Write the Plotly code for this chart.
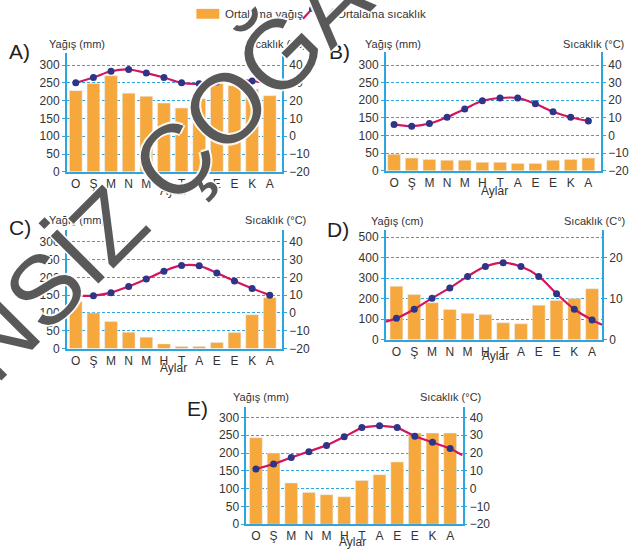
import plotly.graph_objects as go

W, H = 629, 551

months = ["O", "Ş", "M", "N", "M", "H", "T", "A", "E", "E", "K", "A"]

A_rain = [228, 248, 270, 221, 212, 193, 179, 205, 271, 242, 233, 214]
A_temp = [30, 33, 36.5, 37.5, 35.5, 33, 30, 29.5, 30.5, 32, 31, 30]
A_temp_edge_right = 29.8

B_rain = [47, 36, 32, 30, 30, 24, 24, 21, 21, 30, 32, 36]
B_temp = [6.3, 5.3, 6.8, 10.4, 15, 19.7, 21.3, 21.3, 18, 13.5, 10.4, 8.3]

C_rain = [132, 100, 76, 46, 32, 13, 6, 6, 17, 45, 95, 143]
C_temp = [9.7, 9.7, 11.4, 14.9, 19.1, 23.5, 26.7, 26.5, 22.4, 18, 13.8, 10]

D_rain = [260, 220, 180, 147, 128, 122, 82, 77, 168, 191, 200, 248]
D_temp = [5.2, 7.4, 10.1, 12.6, 15.4, 17.8, 18.75, 17.8, 15.4, 11.2, 7.4, 4.8]
D_temp_edge_left = 4.4
D_temp_edge_right = 3.6

E_rain = [243, 200, 116, 89, 83, 77, 123, 139, 175, 256, 256, 256]
E_temp = [11, 13.8, 17.5, 20.8, 24.3, 29.1, 34.4, 35.4, 34.4, 29.4, 26.1, 22.6]
E_temp_edge_right = 18.7

legend_labels = ["Ortalama yağış", "Ortalama sıcaklık"]

BAR = "#F6A83C"
LINE = "#D3145F"
DOT = "#2E3586"
AX = "#2CA6DE"
TXT = "#333333"
FONT = "Liberation Sans, Arial, sans-serif"


def fx(px):
    return px / W


def fy(py):
    return 1 - py / H


panels = [
    dict(tag="A)", rain=A_rain, temp=A_temp, el=None, er=A_temp_edge_right,
         xpx=(67, 283), ypx=(174, 54), rtop=333, dtick=50, t0=-20, k=0.2,
         tticks=[-20, -10, 0, 10, 20, 30, 40], xr=(-0.51, 11.7), shape="spline",
         ylab="Yağış (mm)", tlab="Sıcaklık (°C)",
         tagpos=(20, 52), ylabpos=(77, 45), tlabpos=(276, 45), aylar=(174, 193)),
    dict(tag="B)", rain=B_rain, temp=B_temp, el=None, er=None,
         xpx=(387, 603), ypx=(173, 53), rtop=336, dtick=50, t0=-20, k=0.2,
         tticks=[-20, -10, 0, 10, 20, 30, 40], xr=(-0.47, 11.72), shape="spline",
         ylab="Yağış (mm)", tlab="Sıcaklık (°C)",
         tagpos=(341, 52), ylabpos=(394, 45), tlabpos=(595, 45), aylar=(496, 193)),
    dict(tag="C)", rain=C_rain, temp=C_temp, el=None, er=None,
         xpx=(67, 283), ypx=(353, 233), rtop=333, dtick=50, t0=-20, k=0.2,
         tticks=[-20, -10, 0, 10, 20, 30, 40], xr=(-0.51, 11.7), shape="spline",
         ylab="Yağış (mm)", tlab="Sıcaklık (°C)",
         tagpos=(20, 230), ylabpos=(77, 223), tlabpos=(276, 223), aylar=(174, 373)),
    dict(tag="D)", rain=D_rain, temp=D_temp, el=D_temp_edge_left, er=D_temp_edge_right,
         xpx=(387, 604), ypx=(344, 233), rtop=534, dtick=100, t0=0, k=0.05,
         tticks=[0, 10, 20], xr=(-0.6, 11.56), shape="spline",
         ylab="Yağış (cm)", tlab="Sıcaklık (C°)",
         tagpos=(339, 232), ylabpos=(398, 224), tlabpos=(596, 224), aylar=(497, 361)),
    dict(tag="E)", rain=E_rain, temp=E_temp, el=None, er=E_temp_edge_right,
         xpx=(247, 464), ypx=(531, 412), rtop=330, dtick=50, t0=-20, k=0.2,
         tticks=[-20, -10, 0, 10, 20, 30, 40], xr=(-0.55, 11.7), shape="linear",
         ylab="Yağış (mm)", tlab="Sıcaklık (°C)",
         tagpos=(198, 414), ylabpos=(262, 402), tlabpos=(452, 402), aylar=(354, 549)),
]

fig = go.Figure()
layout = dict(
    width=W, height=H, margin=dict(l=0, r=0, t=0, b=0),
    paper_bgcolor="white", plot_bgcolor="rgba(0,0,0,0)",
    font=dict(family=FONT, color=TXT, size=12),
    barmode="overlay", showlegend=False,
)
annotations = []
shapes = []
xs = list(range(len(months)))

for i, p in enumerate(panels):
    n = i + 1
    xa = "x" if n == 1 else f"x{n}"
    yl_id = 2 * i + 1
    yr_id = 2 * i + 2
    yl = "y" if yl_id == 1 else f"y{yl_id}"
    yr = f"y{yr_id}"

    fig.add_trace(go.Bar(
        x=xs, y=p["rain"], xaxis=xa, yaxis=yl, marker_color=BAR, width=0.72,
        name=legend_labels[0]))

    lx = list(xs)
    ly = list(p["temp"])
    if p["el"] is not None:
        lx = [p["xr"][0]] + lx
        ly = [p["el"]] + ly
    if p["er"] is not None:
        lx = lx + [p["xr"][1]]
        ly = ly + [p["er"]]
    fig.add_trace(go.Scatter(
        x=lx, y=ly, xaxis=xa, yaxis=yr, mode="lines",
        line=dict(color=LINE, width=2.2, shape=p["shape"], smoothing=1.0),
        hoverinfo="skip"))
    fig.add_trace(go.Scatter(
        x=xs, y=p["temp"], xaxis=xa, yaxis=yr, mode="markers",
        marker=dict(color=DOT, size=7), name=legend_labels[1]))

    xkey = "xaxis" if n == 1 else f"xaxis{n}"
    ylkey = "yaxis" if yl_id == 1 else f"yaxis{yl_id}"
    yrkey = f"yaxis{yr_id}"
    layout[xkey] = dict(
        domain=[fx(p["xpx"][0]), fx(p["xpx"][1])], anchor=yl,
        range=list(p["xr"]), tickmode="array", tickvals=xs, ticktext=months,
        showgrid=False, zeroline=False, showline=True, linecolor=AX, linewidth=1.5,
        ticks="", tickfont=dict(size=12, color=TXT), fixedrange=True)
    layout[ylkey] = dict(
        domain=[fy(p["ypx"][0]), fy(p["ypx"][1])], anchor=xa,
        range=[0, p["rtop"]], tick0=0, dtick=p["dtick"],
        showgrid=True, gridcolor=AX, gridwidth=1, griddash="3px,2px",
        zeroline=False, showline=True, linecolor=AX, linewidth=1.5,
        ticks="outside", ticklen=3, tickcolor=AX, tickfont=dict(size=12, color=TXT))
    layout[yrkey] = dict(
        domain=[fy(p["ypx"][0]), fy(p["ypx"][1])], anchor=xa, overlaying=yl, side="right",
        range=[p["t0"], p["t0"] + p["rtop"] * p["k"]], tickmode="array", tickvals=p["tticks"],
        showgrid=False, zeroline=False, showline=True, linecolor=AX, linewidth=1.5,
        ticks="outside", ticklen=3, tickcolor=AX, tickfont=dict(size=12, color=TXT))

    annotations += [
        dict(text=p["tag"], x=fx(p["tagpos"][0]), y=fy(p["tagpos"][1]), xref="paper", yref="paper",
             showarrow=False, font=dict(size=21, color="#222222"), xanchor="center", yanchor="middle"),
        dict(text=p["ylab"], x=fx(p["ylabpos"][0]), y=fy(p["ylabpos"][1]), xref="paper", yref="paper",
             showarrow=False, font=dict(size=11, color=TXT), xanchor="center", yanchor="middle"),
        dict(text=p["tlab"], x=fx(p["tlabpos"][0]), y=fy(p["tlabpos"][1]), xref="paper", yref="paper",
             showarrow=False, font=dict(size=11, color=TXT), xanchor="center", yanchor="middle"),
        dict(text="Aylar", x=fx(p["aylar"][0]), y=fy(p["aylar"][1]), xref="paper", yref="paper",
             showarrow=False, font=dict(size=12, color=TXT), xanchor="center", yanchor="middle"),
    ]

# ---- legend (drawn by hand to match the original glyphs) ----
shapes.append(dict(type="rect", xref="paper", yref="paper",
                   x0=fx(197), x1=fx(220), y0=fy(19), y1=fy(9),
                   fillcolor=BAR, line=dict(width=0)))
annotations.append(dict(text=legend_labels[0], x=fx(224), y=fy(14), xref="paper", yref="paper",
                        showarrow=False, xanchor="left", yanchor="middle",
                        font=dict(size=11.5, color=TXT)))
icon = [(304, 19), (313, 9), (326, 19), (335, 9)]
path = "M " + " L ".join(f"{fx(a):.5f},{fy(b):.5f}" for a, b in icon)
shapes.append(dict(type="path", xref="paper", yref="paper", path=path,
                   line=dict(color=LINE, width=2.2)))
for a, b in icon[1:3]:
    shapes.append(dict(type="circle", xref="paper", yref="paper",
                       x0=fx(a - 3), x1=fx(a + 3), y0=fy(b + 3), y1=fy(b - 3),
                       fillcolor=DOT, line=dict(width=0)))
annotations.append(dict(text=legend_labels[1], x=fx(336), y=fy(14), xref="paper", yref="paper",
                        showarrow=False, xanchor="left", yanchor="middle",
                        font=dict(size=11.5, color=TXT)))

# ---- watermark ----
annotations.append(dict(
    text="İZİNSİZ ÇOĞALTILAMAZ", x=fx(286), y=fy(50), xref="paper", yref="paper",
    showarrow=False, textangle=-45, xanchor="center", yanchor="middle",
    font=dict(size=98, color="rgba(60,60,60,0.85)", family=FONT,
              shadow="1.5px 1.5px 0 #fff, -1.5px -1.5px 0 #fff, 1.5px -1.5px 0 #fff, -1.5px 1.5px 0 #fff")))

layout["annotations"] = annotations
layout["shapes"] = shapes
fig.update_layout(**layout)

fig.write_html("out.html", config={"displayModeBar": False},
               post_script="document.body.style.margin='0';document.body.style.overflow='hidden';")
